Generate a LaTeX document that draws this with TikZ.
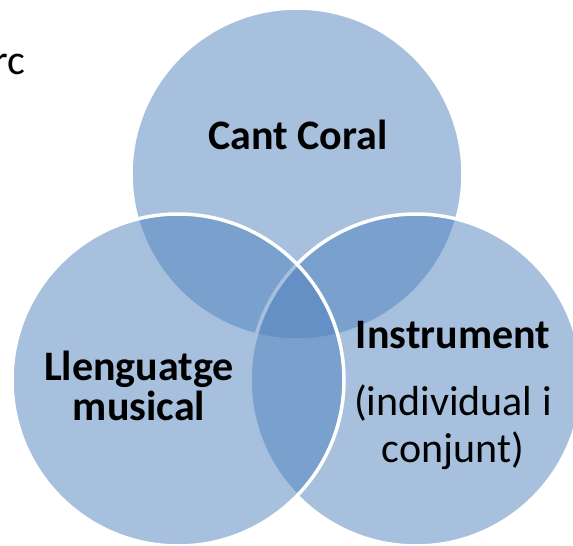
\documentclass[tikz,border=0pt]{standalone}
\usepackage{fontspec}
\setmainfont{Carlito}
\usetikzlibrary{positioning}
\definecolor{vennblue}{HTML}{4F81BD}

\begin{document}
\begin{tikzpicture}
	[x=1pt,y=-1pt,
	set node/.style={draw=white,line width=3.5pt,fill=vennblue,fill opacity=.5,
		shape=circle,inner sep=0pt,minimum size=332pt},
	title node/.style={inner sep=0pt,anchor=base,font=\fontsize{42}{40}\selectfont\bfseries},
	note node/.style={inner sep=0pt,anchor=base,font=\fontsize{42}{47}\selectfont}]
	\useasboundingbox (0,0) rectangle (573,546);
	
	\node[set node] (coral) at (297,174) {};
	\node[set node] (instrument) at (416,380) {};
	\node[set node] (llenguatge) at (178,380) {};
	
	\node[note node,anchor=base east] (marc) at (25,74) {rc};
	
	\node[title node] (t1) at (298,149) {Cant Coral};
	\node[title node,align=center] (t2) at (139,420) {Llenguatge\\musical};
	\node[title node] (t3) at (453,348) {Instrument};
	\node[note node,align=center] (t4) at (453,462) {(individual i\\conjunt)};
	\end{tikzpicture}
\end{document}
